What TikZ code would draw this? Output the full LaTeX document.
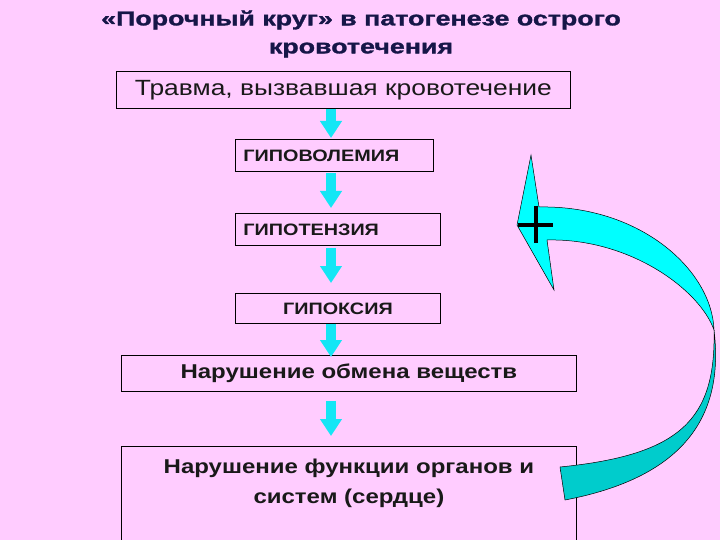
\documentclass[tikz,border=0pt]{standalone}
\usepackage{fontspec}
\setmainfont[FakeStretch=1.2]{Liberation Sans}
\newfontfamily\titlefont[FakeStretch=1.34, FakeBold=1.4]{Liberation Sans Bold}
\usetikzlibrary{arrows.meta, positioning, calc}

\definecolor{bgpink}{RGB}{255,204,255}
\definecolor{titlenavy}{RGB}{22,22,72}
\definecolor{flowcyan}{RGB}{20,230,245}
\definecolor{ribbonlight}{RGB}{0,255,255}
\definecolor{ribbondark}{RGB}{0,204,204}

\begin{document}
\begin{tikzpicture}[x=1pt, y=-1pt,
    box/.style={draw=black, line width=0.8pt, rectangle, anchor=north west, inner sep=0pt, text=black!90},
    capsbox/.style={box, font=\fontsize{16.5}{18}\selectfont\bfseries, minimum height=32pt, inner xsep=8pt, align=left},
    bigbox/.style={box, font=\fontsize{20}{24}\selectfont\bfseries, minimum height=36pt},
    flow/.style={draw=flowcyan, line width=10pt, -{Triangle[width=21pt, length=17pt]}}]
    % background
    \fill[bgpink] (0,0) rectangle (720,540);
    \useasboundingbox (0,0) rectangle (720,540);
    % title
    \node[font=\titlefont\fontsize{20}{28}\selectfont, text=titlenavy, align=center] (title) at (361,34)
        {«Порочный круг» в патогенезе острого\\кровотечения};
    % chain of boxes
    \node[box, font=\fontsize{22}{24}\selectfont, minimum width=454pt, minimum height=37pt] (trauma) at (116,71)
        {Травма, вызвавшая кровотечение};
    \node[capsbox, text width=182pt] (hypovol) at (235,139) {ГИПОВОЛЕМИЯ};
    \node[capsbox, text width=189pt] (hypoten) at (235,213) {ГИПОТЕНЗИЯ};
    \node[capsbox, text width=189pt, align=center, minimum height=30pt] (hypox) at (235,293) {ГИПОКСИЯ};
    \node[bigbox, minimum width=455pt] (metab) at (121,355) {Нарушение обмена веществ};
    \node[box, minimum width=455pt, minimum height=110pt] (organs) at (121,446) {};
    \node[font=\fontsize{20}{30}\selectfont\bfseries, text=black!90, align=center, anchor=north] (organstext)
        at ([yshift=-9pt]organs.north) {Нарушение функции органов и\\систем (сердце)};
    % down arrows
    \coordinate (axis) at (331,0);
    \draw[flow] (trauma.south -| axis) -- ([yshift=1pt]hypovol.north -| axis);
    \draw[flow] ([yshift=-1pt]hypovol.south -| axis) -- ([yshift=5pt]hypoten.north -| axis);
    \draw[flow] ([yshift=-2pt]hypoten.south -| axis) -- ([yshift=10pt]hypox.north -| axis);
    \draw[flow] (hypox.south -| axis) -- ([yshift=-2pt]metab.north -| axis);
    \draw[flow] ([yshift=-9pt]metab.south -| axis) -- ([yshift=10pt]organs.north -| axis);
    % feedback ribbon arrow
    \filldraw[fill=ribbondark, draw=black, line width=0.5pt]
        (714,330) .. controls (716,420) and (680,455) .. (560,467) -- (565,500)
        .. controls (680,478) and (725,420) .. (714,330) -- cycle;
    \filldraw[fill=ribbonlight, draw=black, line width=0.5pt]
        (531,155) -- (539,207) .. controls (640,205) and (712,270) .. (714,330)
        .. controls (700,290) and (630,238) .. (547,240) -- (554,290) -- (517,225) -- cycle;
    % plus sign
    \draw[line width=3.5pt, black] (536,206) -- (536,243) (518,225) -- (553,225);
\end{tikzpicture}
\end{document}
